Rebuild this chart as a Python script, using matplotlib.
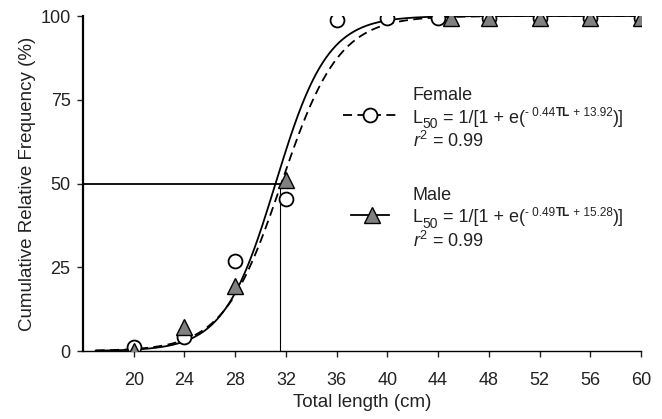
import numpy as np
import matplotlib
matplotlib.use("Agg")
import matplotlib.pyplot as plt
from matplotlib.transforms import offset_copy

FONT = ['Liberation Sans Narrow', 'Liberation Sans', 'DejaVu Sans']
plt.rcParams['font.family'] = FONT
plt.rcParams['mathtext.fontset'] = 'custom'
plt.rcParams['mathtext.rm'] = 'Liberation Sans'
plt.rcParams['mathtext.it'] = 'Liberation Sans:italic'
plt.rcParams['mathtext.bf'] = 'Liberation Sans:bold'

# data
female_x = [20, 24, 28, 32, 36, 40, 44, 48, 52, 56, 60]
female_y = [1.2, 4.2, 26.9, 45.4, 98.8, 99.3, 99.3, 99.5, 99.5, 99.5, 99.5]
male_x = [20, 24, 28, 32, 45, 48, 52, 56, 60]
male_y = [0.0, 7.2, 19.4, 51.0, 99.3, 99.3, 99.3, 99.3, 99.3]
female_a, female_b = -0.44, 13.92
male_a, male_b = -0.49, 15.28
L50 = 31.5
xticks = [20, 24, 28, 32, 36, 40, 44, 48, 52, 56, 60]
yticks = [0, 25, 50, 75, 100]

TXT = '#222222'
fig = plt.figure(figsize=(6.62, 4.19), dpi=100)
ax = fig.add_axes([83/662, 1-351/419, (641-83)/662, (351-16)/419])

tl = np.linspace(17, 60, 400)
ax.plot(tl, 100/(1+np.exp(female_a*tl+female_b)), color='black', lw=1.3,
        dashes=(5, 3), zorder=2)
ax.plot(tl, 100/(1+np.exp(male_a*tl+male_b)), color='black', lw=1.3, zorder=2)

ax.plot([16, L50], [50, 50], color='black', lw=1.3, zorder=1)
ax.plot([L50, L50], [0, 50], color='black', lw=0.8, zorder=1)

ax.plot(female_x, female_y, 'o', ms=10, mfc='white', mec='black', mew=1.3,
        ls='none', zorder=3)
ax.plot(male_x, male_y, '^', ms=11, mfc='#808080', mec='black', mew=1.0,
        ls='none', zorder=4)

ax.set_xlim(16, 60)
ax.set_ylim(0, 100)
ax.set_xticks(xticks)
ax.set_yticks(yticks)
for s in ['top', 'right']:
    ax.spines[s].set_visible(False)
ax.spines['left'].set_linewidth(1.6)
ax.spines['bottom'].set_linewidth(1.0)
ax.tick_params(axis='both', direction='out', length=4, width=1.0,
               labelsize=13, colors=TXT)
ax.tick_params(axis='x', pad=11)
ax.tick_params(axis='y', pad=5)
ax.set_xlabel('Total length (cm)', fontsize=13.5, color=TXT, labelpad=4)
ax.set_ylabel('Cumulative Relative Frequency (%)', fontsize=13.5,
              color=TXT, labelpad=3)

fig.canvas.draw()
renderer = fig.canvas.get_renderer()


def chain(x, y, parts):
    """parts: list of (text, fontsize, dy_points, weight)"""
    dx = 0.0
    for s, size, dy, weight in parts:
        tr = offset_copy(ax.transData, fig=fig, x=dx, y=dy, units='points')
        t = ax.text(x, y, s, fontsize=size, va='baseline', ha='left',
                    color=TXT, fontweight=weight, transform=tr)
        bb = t.get_window_extent(renderer=renderer)
        dx += bb.width * 72 / fig.dpi


def formula(x, y, a, b):
    chain(x, y, [
        ('L', 13, 0, 'normal'),
        ('50', 10, -4, 'normal'),
        (' = 1/[1 + e(', 13, 0, 'normal'),
        ('- %.2f' % (-a), 8.5, 4.5, 'normal'),
        ('TL', 8.5, 4.5, 'bold'),
        (' + %.2f' % b, 8.5, 4.5, 'normal'),
        (')]', 13, 0, 'normal'),
    ])


tx = 42.0
fs = 13
ax.text(tx, 75.0, 'Female', fontsize=fs, va='baseline', color=TXT)
formula(tx, 68.2, female_a, female_b)
ax.text(tx, 61.0, r'$\mathit{r}^{2}$ = 0.99', fontsize=fs, va='baseline',
        color=TXT)
ax.plot([36.5, 40.85], [70.4, 70.4], color='black', lw=1.3, dashes=(5, 3),
        clip_on=False)
ax.plot([38.64], [70.4], 'o', ms=10, mfc='white', mec='black', mew=1.3)

ax.text(tx, 45.2, 'Male', fontsize=fs, va='baseline', color=TXT)
formula(tx, 38.4, male_a, male_b)
ax.text(tx, 31.1, r'$\mathit{r}^{2}$ = 0.99', fontsize=fs, va='baseline',
        color=TXT)
ax.plot([37.14, 40.14], [40.6, 40.6], color='black', lw=1.3)
ax.plot([38.8], [40.6], '^', ms=11, mfc='#808080', mec='black', mew=1.0)

fig.savefig('out.png', dpi=100)
